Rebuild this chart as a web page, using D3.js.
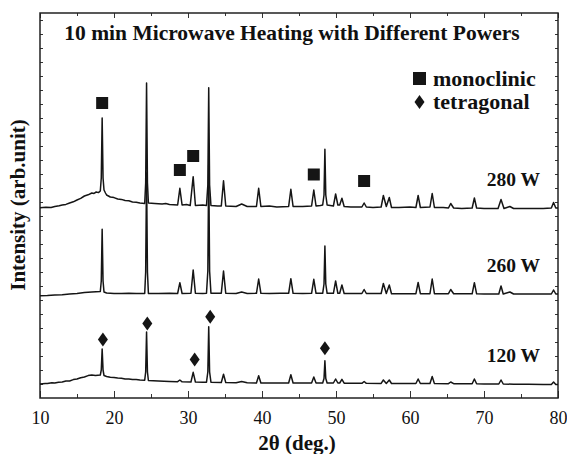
<!DOCTYPE html>
<html>
<head>
<meta charset="utf-8">
<script src="https://cdn.jsdelivr.net/npm/d3@7"></script>
<style>
    body { margin: 0; background: #fff; }
    svg text { font-family: "Liberation Serif", "Times New Roman", serif; fill: #111; }
</style>
</head>
<body>
<div id="chart-area"></div>
<script>
// series names and their flat baseline level (arb. units)
var seriesNames = ["280 W", "260 W", "120 W"];
var seriesBase = [190, 104, 14];

// [2theta, intensity], top to bottom
var scan280 = [[10,190.3],[10.8,190.8],[11.5,190.6],[12,191.5],[12.6,192.3],[13,193],[13.5,193.6],[14,195],[14.5,196.2],[15,198],[15.5,199.6],[16,202],[16.5,203.2],[17,205],[17.3,204.6],[17.6,206],[17.9,205.4],[18.15,207],[18.28,220],[18.4,280],[18.52,220],[18.65,208],[18.85,205],[19.0,203],[19.5,201],[20,200.4],[20.5,199],[21,198.6],[21.5,197.5],[22,197.2],[22.5,196],[23,195.8],[23.5,195],[24.15,194.5],[24.28,215],[24.4,315],[24.52,215],[24.65,195],[25.5,194.5],[26.5,194],[27,194.4],[27.5,193.5],[28.6,193],[28.9,209.7],[29.2,193],[29.8,193.4],[30.3,192.5],[30.7,221.3],[31.0,192.5],[32.0,193],[32.5,192.5],[32.68,213],[32.8,310.3],[32.92,213],[33.1,192.5],[34.0,192],[34.5,192],[34.8,217.3],[35.1,192],[36.5,191.5],[37.25,194],[38,191.5],[39.25,191.5],[39.55,209.7],[39.85,191.5],[41,192],[42,191],[43.6,191.5],[43.9,208.7],[44.2,191.5],[45.5,191.5],[46.7,192],[47.0,208],[47.3,192],[47.9,192.5],[48.2,193],[48.38,203],[48.5,248.7],[48.62,203],[48.8,193],[49.65,192],[49.95,204],[50.25,193],[50.5,193],[50.8,199.7],[51.1,191.5],[52,191],[53.5,191],[53.8,195],[54.1,191],[55,190.5],[56.1,191],[56.4,202.5],[56.8,191.5],[57.2,200.5],[57.5,190.5],[58.5,190.5],[60,191],[60.8,190.5],[61.1,202.5],[61.4,190.5],[62.7,191],[63.0,204.5],[63.3,190.5],[64.5,190.5],[65.2,190],[65.5,194.5],[65.9,190],[67,189.5],[68.4,190],[68.7,200],[69.0,190],[70,189.5],[71.9,189.5],[72.3,198.5],[72.7,189.5],[73.5,191.5],[74,189.5],[76,189.5],[78,189.5],[79.1,190],[79.4,195.5],[79.7,190],[80,190]];

var scan260 = [[10,102.3],[11,102.5],[12,103],[13,103.2],[14,104],[15,104.5],[16,105.5],[17,106],[18.15,106.5],[18.28,117],[18.4,168.7],[18.52,117],[18.65,106],[19.0,105],[20,104.5],[21,104.5],[22,104.7],[23,104.5],[24.15,104.5],[24.28,126],[24.4,225],[24.52,126],[24.65,104.5],[26,104.5],[27.5,104.7],[28.6,104.5],[28.9,115.3],[29.2,104.5],[30.4,104.7],[30.7,128],[31.0,104.7],[32.0,104.5],[32.5,104.7],[32.68,127],[32.8,233],[32.92,127],[33.1,104.7],[34.5,104.7],[34.8,127],[35.1,104.7],[36.5,104.5],[37.25,106],[38,104.5],[39.25,104.7],[39.55,119],[39.85,104.7],[41,104.5],[42.5,104.7],[43.6,104.7],[43.9,119.3],[44.2,104.7],[45.5,104.5],[46.7,104.7],[47.0,118.7],[47.3,104.7],[48.2,104.7],[48.38,114],[48.5,152],[48.62,114],[48.8,104.7],[49.65,104.7],[49.95,117],[50.25,104.7],[50.5,104.7],[50.8,113],[51.1,104.5],[52.5,104.5],[53.5,104.5],[53.8,108.5],[54.1,104.5],[55,104.5],[56.1,104.5],[56.4,114.5],[56.8,104.5],[57.2,113],[57.5,104.3],[59,104.3],[60.8,104.3],[61.1,115.5],[61.4,104.3],[62.7,104.3],[63.0,119],[63.3,104.3],[65.2,104.3],[65.5,108.5],[65.9,104.2],[67,104.2],[68.4,104.2],[68.7,115.3],[69.0,104.2],[70,104],[72.0,104],[72.3,112],[72.6,104],[73.5,106],[74,104],[76,104],[78,104],[79.1,104],[79.4,108],[79.7,104],[80,104]];

var scan120 = [[10,14],[10.7,14.6],[11,14.5],[11.6,15.3],[12,15],[12.5,15.8],[13,16],[13.5,16.9],[14,17],[14.5,18.4],[15,19],[15.5,20.3],[16,21],[16.5,22.4],[17,23],[17.5,22.5],[18.15,23],[18.28,28],[18.4,49],[18.52,28],[18.65,22.5],[19.0,21.5],[19.5,20.7],[20,20.6],[20.5,20],[21,19.8],[21.5,19],[22,19.1],[22.5,18.5],[23,18.4],[23.5,18],[24.15,17.8],[24.28,26],[24.4,66],[24.52,26],[24.65,17.5],[26,17],[27.5,16.5],[28.6,16.3],[28.9,18],[29.2,16.2],[30.4,16],[30.7,25.7],[31.0,16],[32.0,15.8],[32.5,15.8],[32.68,26],[32.8,71.3],[32.92,26],[33.1,15.8],[34.5,15.5],[34.8,23.7],[35.1,15.5],[36.5,15.2],[37.25,16.5],[38,15.2],[39.25,15],[39.55,22.3],[39.85,15],[41,15],[42.5,15],[43.6,15],[43.9,23.3],[44.2,15],[45.5,15],[46.7,15],[47.0,21],[47.3,15],[48.2,15],[48.38,19.5],[48.5,37.3],[48.62,19.5],[48.8,15],[49.65,15],[49.95,19],[50.25,15],[50.5,15],[50.8,18.7],[51.1,14.8],[52.5,14.8],[53.5,14.7],[53.8,16.5],[54.1,14.7],[56.1,14.6],[56.4,18],[56.8,14.6],[57.2,18],[57.5,14.5],[59,14.5],[60.8,14.5],[61.1,19],[61.4,14.5],[62.7,14.5],[63.0,21.5],[63.3,14.4],[65.2,14.3],[65.5,16],[65.9,14.3],[67,14.2],[68.4,14.2],[68.7,19],[69.0,14.2],[70,14],[72.0,14],[72.3,18],[72.6,14],[74,13.8],[76,13.8],[78,13.6],[79.1,13.6],[79.4,16],[79.7,13.5],[80,13.5]];

// phase markers at [2theta, intensity]
var monoclinicMarks = [[18.4, 295], [28.9, 228], [30.7, 242], [47.0, 223.5], [53.8, 217]];
var tetragonalMarks = [[18.5, 58.5], [24.5, 74.5], [30.9, 38.5], [33.0, 81.3], [48.5, 49.7]];

var xTicks = [10, 20, 30, 40, 50, 60, 70, 80];
var xMinorTicks = [15, 25, 35, 45, 55, 65, 75];
var legendLabels = ["monoclinic", "tetragonal"];

function XrdChart(scans) {
    var self = this;
    self.scans = scans;
    self.init();
}

XrdChart.prototype.init = function() {
    var self = this;

    self.width = 567;
    self.height = 454;
    self.margin = {left: 40, right: 9, top: 13, bottom: 56};

    self.svg = d3.select("#chart-area").append("svg")
        .attr("width", self.width)
        .attr("height", self.height);

    self.x = d3.scaleLinear()
        .domain([10, 80])
        .range([self.margin.left, self.width - self.margin.right]);

    self.y = d3.scaleLinear()
        .domain([0, 385])
        .range([self.height - self.margin.bottom, self.margin.top]);

    self.renderAxes();
    self.renderScans();
    self.renderMarks();
    self.renderText();
};

XrdChart.prototype.renderAxes = function() {
    var self = this;
    var yBottom = self.y(0), yTop = self.y(385);
    var xLeft = self.x(10), xRight = self.x(80);

    // bottom axis, ticks pointing in
    var bottom = self.svg.append("g")
        .attr("transform", "translate(0," + yBottom + ")")
        .call(d3.axisBottom(self.x).tickValues(xTicks).tickSize(-7).tickPadding(13).tickFormat(d3.format("d")));
    bottom.append("g")
        .call(d3.axisBottom(self.x).tickValues(xMinorTicks).tickSize(-4).tickFormat(""));

    var top = self.svg.append("g")
        .attr("transform", "translate(0," + yTop + ")")
        .call(d3.axisTop(self.x).tickValues(xTicks).tickSize(-5).tickFormat(""));
    top.append("g")
        .call(d3.axisTop(self.x).tickValues(xMinorTicks).tickSize(-3).tickFormat(""));

    var yt = d3.range(14, 380, 14);
    self.svg.append("g")
        .attr("transform", "translate(" + xLeft + ",0)")
        .call(d3.axisLeft(self.y).tickValues(yt).tickSize(-3).tickFormat(""));
    self.svg.append("g")
        .attr("transform", "translate(" + xRight + ",0)")
        .call(d3.axisRight(self.y).tickValues(yt).tickSize(-3).tickFormat(""));

    self.svg.selectAll(".domain").remove();
    self.svg.selectAll(".tick line").attr("stroke", "#333").attr("stroke-width", 1);
    self.svg.selectAll(".tick text")
        .style("font-family", "'Liberation Serif', serif")
        .style("font-size", "18px")
        .attr("fill", "#111");

    self.svg.append("rect")
        .attr("x", xLeft)
        .attr("y", yTop)
        .attr("width", xRight - xLeft)
        .attr("height", yBottom - yTop)
        .attr("fill", "none")
        .attr("stroke", "#222")
        .attr("stroke-width", 1.5);
};

XrdChart.prototype.renderScans = function() {
    var self = this;

    var line = d3.line()
        .x(function(d) { return self.x(d[0]); })
        .y(function(d) { return self.y(d[1]); });

    self.svg.selectAll(".scan")
        .data(self.scans)
        .enter()
        .append("path")
        .attr("class", "scan")
        .attr("d", line)
        .attr("fill", "none")
        .attr("stroke", "#151515")
        .attr("stroke-width", 1.5)
        .attr("stroke-linejoin", "round");
};

XrdChart.prototype.renderMarks = function() {
    var self = this;

    self.svg.selectAll(".mono")
        .data(monoclinicMarks)
        .enter()
        .append("rect")
        .attr("class", "mono")
        .attr("x", function(d) { return self.x(d[0]) - 6; })
        .attr("y", function(d) { return self.y(d[1]) - 6; })
        .attr("width", 12)
        .attr("height", 12)
        .attr("fill", "#151515");

    self.svg.selectAll(".tetra")
        .data(tetragonalMarks)
        .enter()
        .append("path")
        .attr("class", "tetra")
        .attr("d", "M0,-7L5,0L0,7L-5,0Z")
        .attr("transform", function(d) {
            return "translate(" + self.x(d[0]) + "," + self.y(d[1]) + ")";
        })
        .attr("fill", "#151515");
};

XrdChart.prototype.renderText = function() {
    var self = this;

    self.svg.append("text")
        .attr("x", 292)
        .attr("y", 40)
        .attr("text-anchor", "middle")
        .style("font-size", "21.5px")
        .style("font-weight", "bold")
        .text("10 min Microwave Heating with Different Powers");

    // legend
    self.svg.append("rect")
        .attr("x", 413).attr("y", 72)
        .attr("width", 13).attr("height", 13)
        .attr("fill", "#151515");
    self.svg.append("path")
        .attr("d", "M0,-7L5,0L0,7L-5,0Z")
        .attr("transform", "translate(419.5,102)")
        .attr("fill", "#151515");

    self.svg.selectAll(".legend-text")
        .data(legendLabels)
        .enter()
        .append("text")
        .attr("class", "legend-text")
        .attr("x", 433)
        .attr("y", function(d, i) { return 86 + i * 23; })
        .style("font-size", "22px")
        .style("font-weight", "bold")
        .text(function(d) { return d; });

    // series labels
    self.svg.selectAll(".series-label")
        .data(seriesNames)
        .enter()
        .append("text")
        .attr("class", "series-label")
        .attr("x", 540)
        .attr("y", function(d, i) { return self.y(seriesBase[i]) - 22; })
        .attr("text-anchor", "end")
        .style("font-size", "19.5px")
        .style("font-weight", "bold")
        .text(function(d) { return d; });

    self.svg.append("text")
        .attr("x", 297)
        .attr("y", 450)
        .attr("text-anchor", "middle")
        .style("font-size", "21px")
        .style("font-weight", "bold")
        .text("2θ (deg.)");

    self.svg.append("text")
        .attr("transform", "translate(25,205) rotate(-90)")
        .attr("text-anchor", "middle")
        .style("font-size", "21px")
        .style("font-weight", "bold")
        .text("Intensity (arb.unit)");
};

var chart = new XrdChart([scan280, scan260, scan120]);
</script>
</body>
</html>
